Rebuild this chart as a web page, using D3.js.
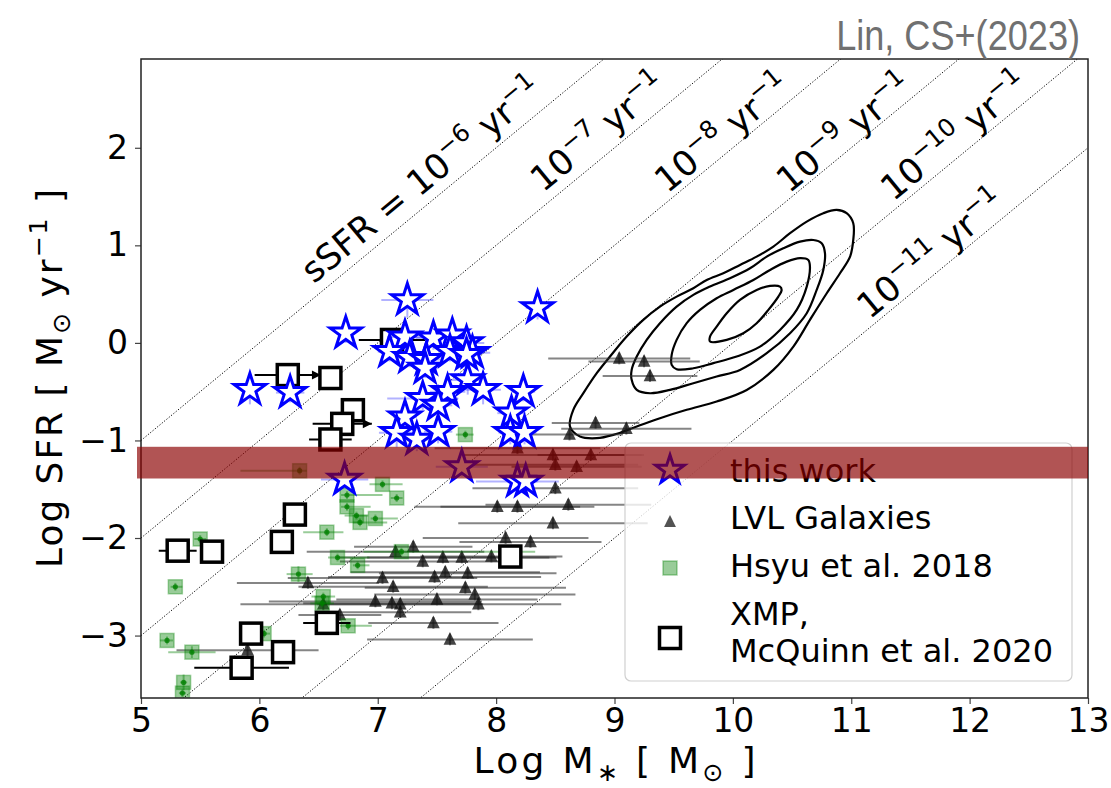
<!DOCTYPE html>
<html>
<head>
<meta charset="utf-8">
<script src="https://cdn.jsdelivr.net/npm/d3@7"></script>
<style>
  body { margin: 0; background: #fff; }
  svg { display: block; font-family: "DejaVu Sans", sans-serif; }
</style>
</head>
<body>
<svg id="chart" width="1111" height="788"></svg>
<script>
// ---- data ----
var xTicks = [5, 6, 7, 8, 9, 10, 11, 12, 13];
var yTicks = [-3, -2, -1, 0, 1, 2];

var ssfrExps = [-6, -7, -8, -9, -10, -11];
var ssfrLabelMass = [7.38, 8.87, 9.92, 10.95, 11.88, 11.68];
var ssfrLabelSfr = [1.66, 2.15, 2.14, 2.14, 2.11, 0.90];

// this work
var starMass = [7.25, 8.35, 6.73, 7.23, 7.10, 7.47, 7.63, 7.75, 7.80, 7.27, 7.41, 7.40, 7.61, 7.75, 7.76, 7.89, 7.59, 7.38, 7.51, 8.23, 8.13, 7.23, 7.16, 7.33, 7.51, 8.12, 8.24, 5.92, 6.26, 6.72, 7.71, 8.18, 8.25];
var starSfr = [0.44, 0.36, 0.10, 0.06, -0.09, 0.05, 0.08, 0.00, -0.10, -0.15, -0.17, -0.26, -0.09, -0.12, -0.38, -0.48, -0.50, -0.57, -0.64, -0.50, -0.72, -0.76, -0.92, -0.99, -0.91, -0.92, -0.92, -0.48, -0.51, -1.40, -1.27, -1.42, -1.42];
var starMassErr = [0.22, 0.10, 0.08, 0.15, 0.10, 0.15, 0.12, 0.15, 0.15, 0.10, 0.12, 0.10, 0.10, 0.12, 0.15, 0.15, 0.15, 0.30, 0.12, 0.10, 0.12, 0.10, 0.15, 0.12, 0.12, 0.10, 0.10, 0.08, 0.12, 0.20, 0.22, 0.35, 0.10];
var starSfrErr = [0.18, 0.12, 0.10, 0.15, 0.10, 0.12, 0.10, 0.10, 0.10, 0.10, 0.10, 0.10, 0.10, 0.12, 0.15, 0.15, 0.15, 0.12, 0.12, 0.10, 0.12, 0.10, 0.15, 0.12, 0.12, 0.12, 0.12, 0.15, 0.10, 0.08, 0.10, 0.08, 0.08];

// LVL galaxies
var lvlMass = [9.04, 9.25, 9.30, 8.84, 8.62, 9.10, 8.18, 8.48, 8.50, 8.68, 8.80, 8.50, 8.01, 8.18, 8.61, 8.48, 8.08, 8.29, 7.30, 7.15, 7.38, 7.55, 7.71, 7.96, 7.57, 7.76, 7.48, 7.04, 7.13, 7.74, 7.82, 6.41, 7.50, 6.98, 7.12, 7.19, 7.85, 7.19, 6.54, 6.68, 7.47, 7.61, 5.90];
var lvlSfr = [-0.16, -0.19, -0.34, -0.82, -0.94, -0.88, -1.08, -1.15, -1.25, -1.27, -1.15, -1.49, -1.68, -1.68, -1.66, -1.85, -2.00, -2.04, -2.09, -2.14, -2.24, -2.20, -2.20, -2.19, -2.35, -2.36, -2.40, -2.41, -2.50, -2.51, -2.58, -2.46, -2.63, -2.65, -2.67, -2.68, -2.68, -2.76, -2.68, -2.79, -2.87, -3.04, -3.15];
var lvlMassErr = [0.60, 0.47, 0.40, 0.37, 0.45, 0.55, 0.70, 0.75, 0.70, 0.55, 0.45, 0.70, 0.70, 0.65, 0.70, 0.80, 0.70, 0.60, 0.50, 0.75, 0.70, 0.90, 0.80, 0.60, 0.80, 0.75, 0.90, 0.80, 0.80, 0.85, 0.85, 0.60, 0.85, 0.90, 0.75, 0.70, 0.70, 0.60, 0.70, 0.35, 0.55, 0.70, 0.60];

// Hsyu et al. 2018
var hsyuMass = [6.34, 7.04, 7.16, 6.74, 6.74, 6.82, 6.85, 6.98, 6.57, 5.50, 5.29, 6.66, 6.83, 6.33, 6.54, 6.53, 6.75, 6.04, 5.22, 5.43, 5.36, 5.35, 7.74, 7.20];
var hsyuSfr = [-1.31, -1.45, -1.59, -1.56, -1.68, -1.77, -1.84, -1.80, -1.94, -2.01, -2.50, -2.20, -2.28, -2.37, -2.60, -2.67, -2.90, -2.98, -3.05, -3.17, -3.48, -3.59, -0.94, -2.14];
var hsyuMassErrLo = [0.50, 0.11, 0.05, 0.05, 0.05, 0.10, 0.06, 0.04, 0.20, 0.05, 0.04, 0.08, 0.04, 0.10, 0.10, 0.10, 0.07, 0.05, 0.06, 0.20, 0.03, 0.03, 0.08, 0.32];
var hsyuMassErrHi = [0.06, 0.17, 0.05, 0.30, 0.20, 0.10, 0.23, 0.19, 0.14, 0.05, 0.06, 0.27, 0.10, 0.12, 0.10, 0.10, 0.20, 0.05, 0.05, 0.20, 0.03, 0.03, 0.07, 1.13];
var hsyuSfrErr = [0.04, 0.04, 0.04, 0.04, 0.04, 0.04, 0.04, 0.04, 0.04, 0.04, 0.04, 0.04, 0.04, 0.08, 0.04, 0.04, 0.04, 0.04, 0.04, 0.06, 0.08, 0.04, 0.04, 0.04];

// XMP, McQuinn et al. 2020 (limit = 1 : lower limit in mass, arrow to the right)
var xmpMass = [7.12, 6.24, 6.60, 6.79, 6.70, 6.60, 6.30, 6.19, 5.31, 5.60, 6.57, 5.93, 6.20, 5.85, 8.12];
var xmpSfr = [0.03, -0.33, -0.36, -0.69, -0.83, -0.99, -1.76, -2.04, -2.13, -2.14, -2.87, -2.98, -3.17, -3.33, -2.19];
var xmpMassErr = [0.28, 0.28, 0, 0, 0.25, 0.18, 0, 0, 0.16, 0, 0.20, 0, 0, 0.40, 0];
var xmpLimit = [0, 1, 0, 0, 1, 0, 0, 0, 0, 0, 0, 0, 0, 0, 0];

// SDSS density contours [log M, log SFR]
var contourOuter = [[8.624, -0.857], [8.709, -0.960], [8.850, -0.977], [8.990, -0.943], [9.188, -0.857], [9.384, -0.772], [9.610, -0.686], [9.863, -0.601], [10.117, -0.482], [10.342, -0.277], [10.511, -0.038], [10.651, 0.236], [10.793, 0.509], [10.905, 0.714], [10.990, 0.884], [11.017, 1.055], [11.017, 1.226], [10.961, 1.329], [10.877, 1.363], [10.764, 1.329], [10.624, 1.243], [10.483, 1.124], [10.342, 0.987], [10.201, 0.884], [10.060, 0.799], [9.919, 0.714], [9.779, 0.645], [9.666, 0.560], [9.525, 0.474], [9.384, 0.372], [9.243, 0.236], [9.103, 0.065], [8.962, -0.140], [8.850, -0.310], [8.737, -0.515], [8.652, -0.686]];
var contourSecond = [[9.145, -0.379], [9.188, -0.482], [9.300, -0.516], [9.469, -0.482], [9.666, -0.413], [9.863, -0.345], [10.060, -0.277], [10.286, -0.106], [10.483, 0.099], [10.624, 0.304], [10.708, 0.543], [10.764, 0.748], [10.778, 0.919], [10.750, 1.022], [10.680, 1.055], [10.567, 1.038], [10.426, 0.970], [10.286, 0.884], [10.145, 0.765], [9.976, 0.663], [9.807, 0.577], [9.666, 0.492], [9.525, 0.372], [9.384, 0.202], [9.272, 0.031], [9.188, -0.140], [9.145, -0.277]];
var contourThird = [[9.483, -0.225], [9.525, -0.270], [9.666, -0.260], [9.835, -0.208], [10.032, -0.140], [10.229, -0.038], [10.398, 0.133], [10.539, 0.338], [10.624, 0.577], [10.651, 0.782], [10.637, 0.850], [10.567, 0.868], [10.455, 0.833], [10.314, 0.748], [10.173, 0.645], [10.004, 0.543], [9.863, 0.458], [9.722, 0.338], [9.610, 0.202], [9.525, 0.031], [9.483, -0.123]];
var contourInner = [[9.807, 0.014], [9.948, 0.031], [10.088, 0.099], [10.201, 0.202], [10.300, 0.338], [10.384, 0.474], [10.412, 0.543], [10.398, 0.577], [10.314, 0.584], [10.201, 0.543], [10.060, 0.441], [9.948, 0.304], [9.863, 0.167], [9.807, 0.065]];

var bandLow = -1.39;
var bandHigh = -1.065;

var legendNames = ["this work", "LVL Galaxies", "Hsyu et al. 2018", "XMP,", "McQuinn et al. 2020"];

// ---- drawing ----
var svg = d3.select("#chart");
svg.append("rect").attr("width", 1111).attr("height", 788).attr("fill", "#fff");

var x = d3.scaleLinear().domain([5, 13]).range([141, 1088]);
var y = d3.scaleLinear().domain([-3.64, 2.91]).range([698, 59]);

svg.append("defs").append("clipPath").attr("id", "plot-clip")
  .append("rect")
  .attr("x", x(5)).attr("y", y(2.91))
  .attr("width", x(13) - x(5)).attr("height", y(-3.64) - y(2.91));

var plot = svg.append("g").attr("clip-path", "url(#plot-clip)");

function starPath(R) {
  var r = R * 0.381966, pts = [];
  for (var i = 0; i < 10; i++) {
    var a = -Math.PI / 2 + i * Math.PI / 5;
    var rr = (i % 2) ? r : R;
    pts.push([rr * Math.cos(a), rr * Math.sin(a)]);
  }
  return "M" + pts.join("L") + "Z";
}

function triPath(s) {
  return "M0," + (-s) + "L" + (-s * 0.85) + "," + (s * 0.7) + "L" + (s * 0.85) + "," + (s * 0.7) + "Z";
}

// text with super/subscripts; parts = [[string, mode]], mode 1 = sup, -1 = sub
function richText(t, parts, fs) {
  var cur = 0;
  parts.forEach(function(p) {
    var target = p[1] === 1 ? -0.42 * fs : (p[1] === -1 ? 0.22 * fs : 0);
    var ts = t.append("tspan").attr("dy", target - cur).text(p[0]);
    if (p[1] !== 0) ts.attr("font-size", fs * 0.7);
    cur = target;
  });
}

// constant sSFR lines
ssfrExps.forEach(function(e) {
  plot.append("line")
    .attr("x1", x(5)).attr("y1", y(5 + e))
    .attr("x2", x(13)).attr("y2", y(13 + e))
    .attr("stroke", "#000")
    .attr("stroke-width", 1)
    .attr("stroke-dasharray", "1.2,1.8");
});

var ang = Math.atan2(y(0) - y(1), x(1) - x(0)) * 180 / Math.PI;
var annFs = 35;
ssfrExps.forEach(function(e, i) {
  var px = x(ssfrLabelMass[i]), py = y(ssfrLabelSfr[i]);
  var t = svg.append("text")
    .attr("x", px).attr("y", py + annFs * 0.3)
    .attr("text-anchor", "middle")
    .attr("font-size", annFs)
    .attr("fill", "#000")
    .attr("transform", "rotate(" + (-ang) + " " + px + " " + py + ")");
  var lead = i === 0 ? "sSFR = 10" : "10";
  richText(t, [[lead, 0], ["\u2212" + (-e), 1], [" yr", 0], ["\u22121", 1]], annFs);
});

// contours
var contourLine = d3.line()
  .x(function(d) { return x(d[0]); })
  .y(function(d) { return y(d[1]); })
  .curve(d3.curveCatmullRomClosed.alpha(0.5));

[contourOuter, contourSecond, contourThird, contourInner].forEach(function(c) {
  plot.append("path")
    .attr("d", contourLine(c))
    .attr("fill", "none")
    .attr("stroke", "#000")
    .attr("stroke-width", 2.2);
});

// LVL
lvlMass.forEach(function(m, i) {
  plot.append("line")
    .attr("x1", x(m - lvlMassErr[i])).attr("x2", x(m + lvlMassErr[i]))
    .attr("y1", y(lvlSfr[i])).attr("y2", y(lvlSfr[i]))
    .attr("stroke", "#333").attr("stroke-opacity", 0.6).attr("stroke-width", 2);
  plot.append("line")
    .attr("x1", x(m)).attr("x2", x(m))
    .attr("y1", y(lvlSfr[i] - 0.06)).attr("y2", y(lvlSfr[i] + 0.06))
    .attr("stroke", "#333").attr("stroke-opacity", 0.6).attr("stroke-width", 2);
});
lvlMass.forEach(function(m, i) {
  plot.append("path")
    .attr("d", triPath(7.5))
    .attr("transform", "translate(" + x(m) + "," + y(lvlSfr[i]) + ")")
    .attr("fill", "#111").attr("fill-opacity", 0.78);
});

// Hsyu
hsyuMass.forEach(function(m, i) {
  plot.append("line")
    .attr("x1", x(m - hsyuMassErrLo[i])).attr("x2", x(m + hsyuMassErrHi[i]))
    .attr("y1", y(hsyuSfr[i])).attr("y2", y(hsyuSfr[i]))
    .attr("stroke", "green").attr("stroke-opacity", 0.4).attr("stroke-width", 2);
  plot.append("line")
    .attr("x1", x(m)).attr("x2", x(m))
    .attr("y1", y(hsyuSfr[i] - hsyuSfrErr[i])).attr("y2", y(hsyuSfr[i] + hsyuSfrErr[i]))
    .attr("stroke", "green").attr("stroke-opacity", 0.4).attr("stroke-width", 2);
});
hsyuMass.forEach(function(m, i) {
  plot.append("rect")
    .attr("x", x(m) - 7).attr("y", y(hsyuSfr[i]) - 7)
    .attr("width", 14).attr("height", 14)
    .attr("fill", "green").attr("fill-opacity", 0.4)
    .attr("stroke", "green").attr("stroke-opacity", 0.35).attr("stroke-width", 1.5);
  plot.append("circle")
    .attr("cx", x(m)).attr("cy", y(hsyuSfr[i])).attr("r", 2.6)
    .attr("fill", "green").attr("fill-opacity", 0.8);
});

// XMP
xmpMass.forEach(function(m, i) {
  if (xmpMassErr[i] <= 0) return;
  var yy = y(xmpSfr[i]);
  plot.append("line")
    .attr("x1", x(m - xmpMassErr[i])).attr("x2", x(m + xmpMassErr[i]))
    .attr("y1", yy).attr("y2", yy)
    .attr("stroke", "#000").attr("stroke-width", 2);
  if (xmpLimit[i]) {
    var tip = x(m + xmpMassErr[i]);
    plot.append("path")
      .attr("d", "M" + tip + "," + yy + "L" + (tip - 9) + "," + (yy - 4.5) + "L" + (tip - 9) + "," + (yy + 4.5) + "Z")
      .attr("fill", "#000");
  }
});
xmpMass.forEach(function(m, i) {
  plot.append("rect")
    .attr("x", x(m) - 10.5).attr("y", y(xmpSfr[i]) - 10.5)
    .attr("width", 21).attr("height", 21)
    .attr("fill", "#fff")
    .attr("stroke", "#000").attr("stroke-width", 3.5);
});

// this work
starMass.forEach(function(m, i) {
  plot.append("line")
    .attr("x1", x(m - starMassErr[i])).attr("x2", x(m + starMassErr[i]))
    .attr("y1", y(starSfr[i])).attr("y2", y(starSfr[i]))
    .attr("stroke", "blue").attr("stroke-opacity", 0.3).attr("stroke-width", 2);
  plot.append("line")
    .attr("x1", x(m)).attr("x2", x(m))
    .attr("y1", y(starSfr[i] - starSfrErr[i])).attr("y2", y(starSfr[i] + starSfrErr[i]))
    .attr("stroke", "blue").attr("stroke-opacity", 0.3).attr("stroke-width", 2);
});
starMass.forEach(function(m, i) {
  plot.append("path")
    .attr("d", starPath(16.5))
    .attr("transform", "translate(" + x(m) + "," + y(starSfr[i]) + ")")
    .attr("fill", "#fff")
    .attr("stroke", "blue").attr("stroke-width", 3).attr("stroke-linejoin", "miter");
});

// axes
var xAxis = d3.axisBottom(x).tickValues(xTicks).tickSize(6).tickSizeOuter(0).tickPadding(5)
  .tickFormat(d3.format("d"));
var yAxis = d3.axisLeft(y).tickValues(yTicks).tickSize(6).tickSizeOuter(0).tickPadding(7)
  .tickFormat(d3.format("d"));

var gx = svg.append("g").attr("transform", "translate(0," + y(-3.64) + ")").call(xAxis);
var gy = svg.append("g").attr("transform", "translate(" + x(5) + ",0)").call(yAxis);
[gx, gy].forEach(function(g) {
  g.select(".domain").remove();
  g.selectAll(".tick line").attr("stroke", "#444").attr("stroke-width", 1.2);
  g.selectAll(".tick text")
    .attr("fill", "#000")
    .attr("font-size", 33)
    .attr("font-family", "DejaVu Sans, sans-serif");
});

svg.append("rect")
  .attr("x", x(5)).attr("y", y(2.91))
  .attr("width", x(13) - x(5)).attr("height", y(-3.64) - y(2.91))
  .attr("fill", "none").attr("stroke", "#222").attr("stroke-width", 1.5);

// axis labels
var labFs = 36;
var xl = svg.append("text")
  .attr("x", (x(5) + x(13)) / 2).attr("y", 773)
  .attr("text-anchor", "middle").attr("font-size", labFs)
  .attr("textLength", 282).attr("lengthAdjust", "spacing");
richText(xl, [["Log M", 0], ["\u2217", -1], [" [ M", 0], ["\u2299", -1], [" ]", 0]], labFs);

var cy = (y(2.91) + y(-3.64)) / 2;
var yl = svg.append("text")
  .attr("transform", "translate(62," + cy + ") rotate(-90)")
  .attr("text-anchor", "middle").attr("font-size", labFs)
  .attr("textLength", 379).attr("lengthAdjust", "spacing");
richText(yl, [["Log SFR [ M", 0], ["\u2299", -1], [" yr", 0], ["\u22121", 1], [" ]", 0]], labFs);

// legend
var leg = svg.append("g");
leg.append("rect")
  .attr("x", 625).attr("y", 443).attr("width", 447).attr("height", 238)
  .attr("rx", 6)
  .attr("fill", "#fff").attr("fill-opacity", 0.8)
  .attr("stroke", "#d0d0d0").attr("stroke-width", 1.2);

leg.append("path").attr("d", starPath(15))
  .attr("transform", "translate(670,470)")
  .attr("fill", "#fff").attr("stroke", "blue").attr("stroke-width", 3);
leg.append("path").attr("d", triPath(7))
  .attr("transform", "translate(670,522)")
  .attr("fill", "#111").attr("fill-opacity", 0.72);
leg.append("rect").attr("x", 663).attr("y", 561).attr("width", 14).attr("height", 14)
  .attr("fill", "green").attr("fill-opacity", 0.4)
  .attr("stroke", "green").attr("stroke-opacity", 0.35).attr("stroke-width", 1.5);
leg.append("rect").attr("x", 659.5).attr("y", 627.5).attr("width", 21).attr("height", 21)
  .attr("fill", "#fff").attr("stroke", "#000").attr("stroke-width", 3.5);

var legBase = [482, 529, 577, 625, 662];
legendNames.forEach(function(n, i) {
  leg.append("text")
    .attr("x", 730).attr("y", legBase[i])
    .attr("font-size", 32).attr("fill", "#000")
    .text(n);
});

// highlighted band
svg.append("rect")
  .attr("x", x(5) - 4).attr("y", y(bandHigh))
  .attr("width", x(13) - x(5) + 4).attr("height", y(bandLow) - y(bandHigh))
  .attr("fill", "darkred").attr("fill-opacity", 0.67);

// credit (horizontally condensed like the original lettering)
svg.append("text")
  .attr("transform", "translate(1080,50) scale(0.86,1)")
  .attr("text-anchor", "end")
  .attr("font-family", "Liberation Sans, Arial, sans-serif")
  .attr("font-size", 42)
  .attr("fill", "#707070")
  .text("Lin, CS+(2023)");
</script>
</body>
</html>
